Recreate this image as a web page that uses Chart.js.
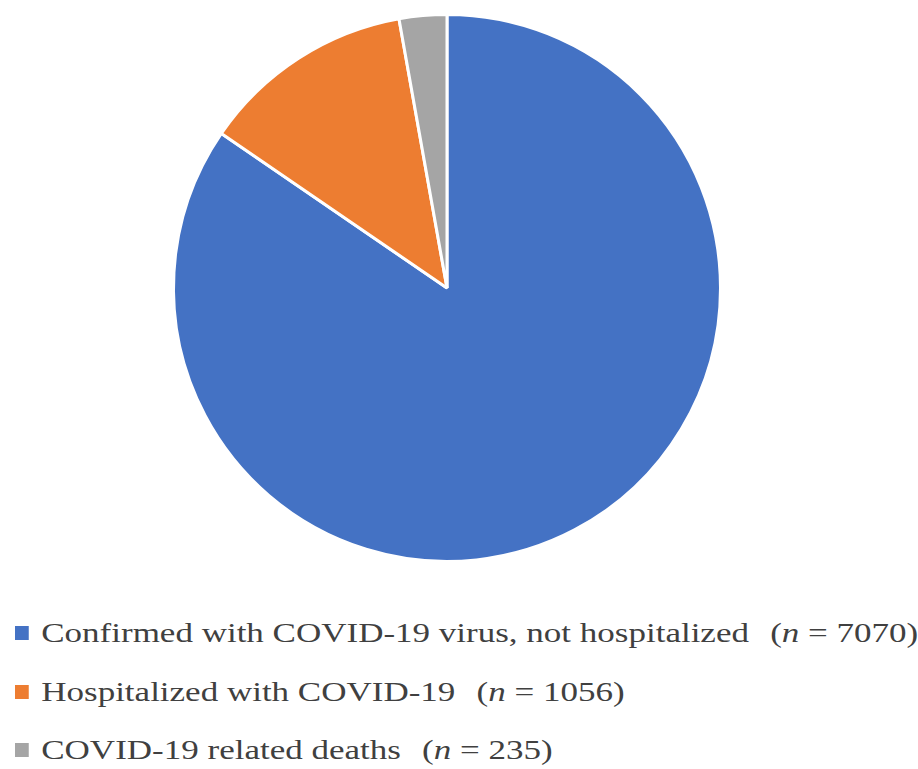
<!DOCTYPE html>
<html>
<head>
<meta charset="utf-8">
<script src="https://cdn.jsdelivr.net/npm/chart.js@4"></script>
<style>
  body { margin: 0; background: #fff; }
  #wrap { position: relative; width: 918px; height: 769px; }
  #legend {
    position: absolute; left: 15px; top: 604px;
    font-family: "Liberation Serif", serif; font-size: 28px; color: #404040;
    transform-origin: 0 0; transform: scaleX(1.25);
  }
  .row { height: 58.5px; white-space: nowrap; display: flex; align-items: center; }
  .box { width: 11px; height: 14px; margin-right: 10px; flex: none; }
  .n { margin-left: 17px; }
</style>
</head>
<body>
<div id="wrap">
  <canvas id="c" width="918" height="590"></canvas>
  <div id="legend"></div>
</div>
<script>
const labels = [
  'Confirmed with COVID-19 virus, not hospitalized',
  'Hospitalized with COVID-19',
  'COVID-19 related deaths'
];
const counts = [7070, 1056, 235];
const colors = ['#4472C4', '#ED7D31', '#A5A5A5'];

const ctx = document.getElementById('c').getContext('2d');
new Chart(ctx, {
  type: 'pie',
  data: {
    labels: labels,
    datasets: [{
      data: counts,
      backgroundColor: colors,
      borderColor: '#ffffff',
      borderWidth: 3
    }]
  },
  options: {
    responsive: false,
    animation: false,
    layout: { padding: { top: 13, bottom: 27, left: 0, right: 24 } },
    plugins: {
      legend: { display: false },
      tooltip: { enabled: false }
    }
  }
});

// legend drawn as html so the "n" can be italic
const legend = document.getElementById('legend');
labels.forEach((lab, i) => {
  const row = document.createElement('div');
  row.className = 'row';
  row.innerHTML = '<span class="box" style="background:' + colors[i] + '"></span>' +
    '<span class="lab">' + lab + '</span>' +
    '<span class="n">(<i>n</i> = ' + counts[i] + ')</span>';
  legend.appendChild(row);
});
</script>
</body>
</html>
